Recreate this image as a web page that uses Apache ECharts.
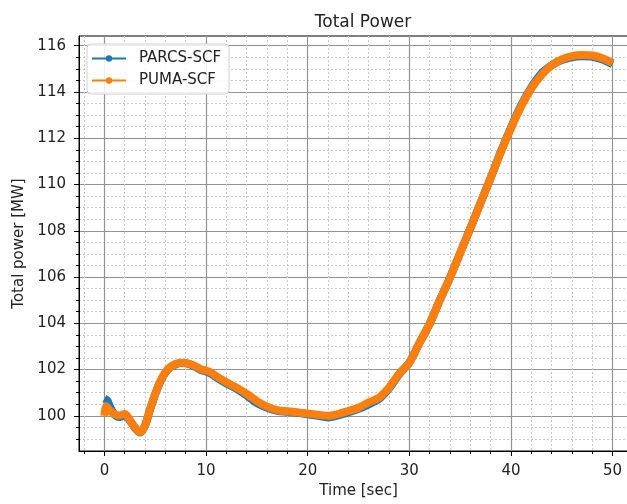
<!DOCTYPE html>
<html>
<head>
<meta charset="utf-8">
<script src="https://cdn.jsdelivr.net/npm/echarts@6/dist/echarts.min.js"></script>
<style>html,body{margin:0;padding:0;background:#fff;overflow:hidden;}#c{width:642px;height:504px;}</style>
</head>
<body>
<div id="c"></div>
<script>
const parcsTime = [0, 0.3, 0.6, 1, 1.5, 2, 2.5, 3, 3.5, 4, 4.5, 5, 5.5, 6, 6.5, 7, 7.5, 8, 8.5, 9, 9.5, 10, 10.5, 11, 12, 13, 14, 15, 16, 17, 18, 19, 20, 21, 22, 23, 24, 25, 26, 27, 28, 29, 30, 31, 32, 33, 34, 35, 36, 37, 38, 39, 40, 41, 42, 43, 44, 45, 46, 47, 48, 49, 50];
const parcsPower = [100.75, 100.65, 100.35, 100.05, 99.95, 100.02, 99.8, 99.48, 99.28, 99.58, 100.28, 100.93, 101.48, 101.86, 102.1, 102.22, 102.28, 102.27, 102.21, 102.1, 101.98, 101.92, 101.82, 101.66, 101.4, 101.17, 100.88, 100.55, 100.35, 100.22, 100.18, 100.13, 100.07, 100.0, 99.93, 100.02, 100.15, 100.3, 100.5, 100.72, 101.18, 101.8, 102.3, 103.15, 103.98, 105.0, 105.97, 107.04, 108.1, 109.2, 110.28, 111.42, 112.46, 113.42, 114.2, 114.8, 115.15, 115.38, 115.5, 115.54, 115.52, 115.4, 115.2];
const pumaTime = [0, 0.15, 0.5, 1, 1.5, 2, 2.5, 3, 3.5, 4, 4.5, 5, 5.5, 6, 6.5, 7, 7.5, 8, 8.5, 9, 9.5, 10, 10.5, 11, 12, 13, 14, 15, 16, 17, 18, 19, 20, 21, 22, 23, 24, 25, 26, 27, 28, 29, 30, 31, 32, 33, 34, 35, 36, 37, 38, 39, 40, 41, 42, 43, 44, 45, 46, 47, 48, 49, 50];
const pumaPower = [100.0, 100.42, 100.25, 100.07, 100.02, 100.08, 99.82, 99.5, 99.3, 99.6, 100.3, 100.95, 101.5, 101.88, 102.12, 102.24, 102.3, 102.28, 102.23, 102.13, 102.02, 101.96, 101.87, 101.72, 101.45, 101.22, 100.95, 100.64, 100.4, 100.25, 100.2, 100.15, 100.1, 100.05, 100.0, 100.08, 100.21, 100.35, 100.58, 100.78, 101.22, 101.82, 102.3, 103.15, 103.98, 105.0, 105.97, 107.04, 108.1, 109.2, 110.28, 111.4, 112.43, 113.37, 114.15, 114.73, 115.15, 115.41, 115.55, 115.6, 115.58, 115.46, 115.26];
const xMajorTicks = [0, 10, 20, 30, 40, 50];
const xMinorTicks = [-2, 2, 4, 6, 8, 12, 14, 16, 18, 22, 24, 26, 28, 32, 34, 36, 38, 42, 44, 46, 48, 52];
const yMajorTicks = [100, 102, 104, 106, 108, 110, 112, 114, 116];
const yMinorTicks = [99, 99.5, 100.5, 101, 101.5, 102.5, 103, 103.5, 104.5, 105, 105.5, 106.5, 107, 107.5, 108.5, 109, 109.5, 110.5, 111, 111.5, 112.5, 113, 113.5, 114.5, 115, 115.5];
const seriesNames = ['PARCS-SCF', 'PUMA-SCF'];

const FONT = 'DejaVu Sans';
const XMIN = -2.5, XMAX = 52.5, YMIN = 98.48, YMAX = 116.42;

function pairs(xs, ys) { return xs.map((x, i) => [x, ys[i]]); }

const chart = echarts.init(document.getElementById('c'), null, {renderer: 'canvas'});
chart.setOption({
  animation: false,
  backgroundColor: '#fff',
  title: {
    text: 'Total Power', left: 358, top: 9, textAlign: 'center',
    textStyle: {fontFamily: FONT, fontSize: 17, fontWeight: 'normal', color: '#222'}
  },
  grid: {left: 79, top: 36, width: 559, height: 418, show: true, borderColor: '#000', borderWidth: 1, backgroundColor: 'transparent'},
  legend: {
    orient: 'vertical', left: 87, top: 44,
    data: seriesNames,
    itemWidth: 34, itemHeight: 8, itemGap: 7,
    padding: [7, 8, 6, 4],
    backgroundColor: 'rgba(255,255,255,0.85)', borderColor: '#d0d0d0', borderWidth: 1, borderRadius: 4,
    textStyle: {fontFamily: FONT, fontSize: 15, color: '#222', padding: [0, 0, 0, 8]},
    lineStyle: {width: 2}
  },
  xAxis: [
    {
      type: 'value', min: XMIN, max: XMAX,
      name: 'Time [sec]', nameLocation: 'middle', nameGap: 33,
      nameTextStyle: {fontFamily: FONT, fontSize: 15, color: '#222'},
      axisLine: {show: true, onZero: false, lineStyle: {color: '#000', width: 1}},
      axisTick: {show: true, customValues: xMajorTicks, length: 5, lineStyle: {color: '#000'}},
      axisLabel: {customValues: xMajorTicks, margin: 13, fontFamily: FONT, fontSize: 15, color: '#222'},
      splitLine: {show: true, lineStyle: {color: '#939393', width: 1.2}}
    },
    {
      type: 'value', min: XMIN, max: XMAX, position: 'bottom',
      axisLine: {show: false, onZero: false},
      axisTick: {show: true, customValues: xMinorTicks, length: 3, lineStyle: {color: '#000'}},
      axisLabel: {show: false, customValues: xMinorTicks},
      splitLine: {show: true, lineStyle: {color: '#c8c8c8', width: 1, type: [2, 2]}}
    }
  ],
  yAxis: [
    {
      type: 'value', min: YMIN, max: YMAX,
      name: 'Total power [MW]', nameLocation: 'middle', nameGap: 47,
      nameTextStyle: {fontFamily: FONT, fontSize: 15, color: '#222'},
      axisLine: {show: true, onZero: false, lineStyle: {color: '#000', width: 1}},
      axisTick: {show: true, customValues: yMajorTicks, length: 5, lineStyle: {color: '#000'}},
      axisLabel: {customValues: yMajorTicks, margin: 13, fontFamily: FONT, fontSize: 15, color: '#222'},
      splitLine: {show: true, lineStyle: {color: '#939393', width: 1.2}}
    },
    {
      type: 'value', min: YMIN, max: YMAX, position: 'left',
      axisLine: {show: false, onZero: false},
      axisTick: {show: true, customValues: yMinorTicks, length: 3, lineStyle: {color: '#000'}},
      axisLabel: {show: false, customValues: yMinorTicks},
      splitLine: {show: true, lineStyle: {color: '#c8c8c8', width: 1, type: [2, 2]}}
    }
  ],
  series: [
    {
      name: seriesNames[0], type: 'line', xAxisIndex: 0, yAxisIndex: 0,
      data: pairs(parcsTime, parcsPower),
      smooth: 0.3, symbol: 'circle', symbolSize: 6, showSymbol: false,
      lineStyle: {color: '#1f77b4', width: 8}, itemStyle: {color: '#1f77b4'}, z: 3
    },
    {
      name: seriesNames[1], type: 'line', xAxisIndex: 0, yAxisIndex: 0,
      data: pairs(pumaTime, pumaPower),
      smooth: 0.3, symbol: 'circle', symbolSize: 6, showSymbol: false,
      lineStyle: {color: '#ff7f0e', width: 8}, itemStyle: {color: '#ff7f0e'}, z: 4
    }
  ]
});
</script>
</body>
</html>
